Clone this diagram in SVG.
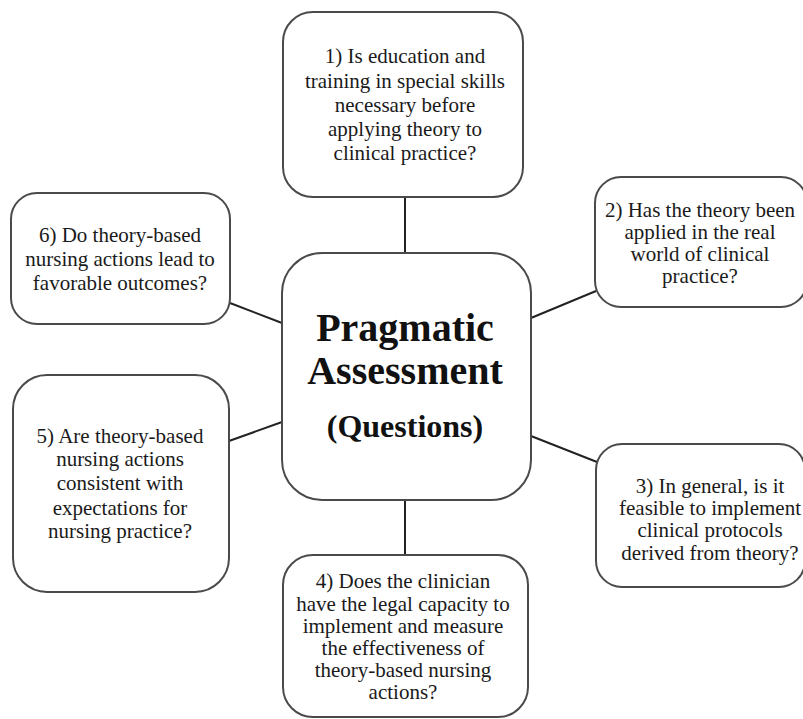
<svg xmlns="http://www.w3.org/2000/svg" width="803" height="719" viewBox="0 0 803 719">
<style>
.box{fill:#fff;stroke:#4a4a4a;stroke-width:2}
.t{font-family:"Liberation Serif","Times New Roman",serif;font-size:21px;fill:#1a1a1a;text-anchor:middle}
.c{font-family:"Liberation Serif","Times New Roman",serif;font-weight:bold;fill:#111;text-anchor:middle}
.ln{stroke:#222;stroke-width:2;fill:none}
</style>
<rect width="803" height="719" fill="#fff"/>
<g id="connectors">
<line class="ln" x1="405" y1="197" x2="405" y2="253"/>
<line class="ln" x1="531" y1="318" x2="596" y2="291"/>
<line class="ln" x1="230" y1="303" x2="282" y2="323"/>
<line class="ln" x1="229" y1="441" x2="282" y2="422"/>
<line class="ln" x1="531" y1="436" x2="597" y2="462"/>
<line class="ln" x1="405" y1="500" x2="405" y2="555"/>
</g>
<g id="center">
<rect class="box" x="282" y="253" width="249" height="247" rx="40"/>
<text class="c" x="405" y="341" font-size="40">Pragmatic</text>
<text class="c" x="405" y="384" font-size="40">Assessment</text>
<text class="c" x="405" y="437" font-size="32">(Questions)</text>
</g>
<g id="q1">
<rect class="box" x="283" y="12" width="240" height="185" rx="30"/>
<text class="t" x="405" y="63">1) Is education and</text>
<text class="t" x="405" y="88">training in special skills</text>
<text class="t" x="405" y="112">necessary before</text>
<text class="t" x="405" y="136">applying theory to</text>
<text class="t" x="405" y="160">clinical practice?</text>
</g>
<g id="q2">
<rect class="box" x="595" y="177" width="212" height="130" rx="26"/>
<text class="t" x="700" y="217">2) Has the theory been</text>
<text class="t" x="700" y="239">applied in the real</text>
<text class="t" x="700" y="261">world of clinical</text>
<text class="t" x="700" y="283">practice?</text>
</g>
<g id="q3">
<rect class="box" x="596" y="444" width="209" height="143" rx="26"/>
<text class="t" x="710" y="493">3) In general, is it</text>
<text class="t" x="710" y="515">feasible to implement</text>
<text class="t" x="710" y="537">clinical protocols</text>
<text class="t" x="710" y="560">derived from theory?</text>
</g>
<g id="q4">
<rect class="box" x="283" y="555" width="245" height="162" rx="30"/>
<text class="t" x="403" y="588">4) Does the clinician</text>
<text class="t" x="403" y="611">have the legal capacity to</text>
<text class="t" x="403" y="633">implement and measure</text>
<text class="t" x="403" y="655">the effectiveness of</text>
<text class="t" x="403" y="677">theory-based nursing</text>
<text class="t" x="403" y="699">actions?</text>
</g>
<g id="q5">
<rect class="box" x="13" y="375" width="216" height="217" rx="34"/>
<text class="t" x="120" y="443">5) Are theory-based</text>
<text class="t" x="120" y="466">nursing actions</text>
<text class="t" x="120" y="490">consistent with</text>
<text class="t" x="120" y="515">expectations for</text>
<text class="t" x="120" y="538">nursing practice?</text>
</g>
<g id="q6">
<rect class="box" x="11" y="193" width="219" height="131" rx="26"/>
<text class="t" x="120" y="242">6) Do theory-based</text>
<text class="t" x="120" y="266">nursing actions lead to</text>
<text class="t" x="120" y="290">favorable outcomes?</text>
</g>
</svg>
